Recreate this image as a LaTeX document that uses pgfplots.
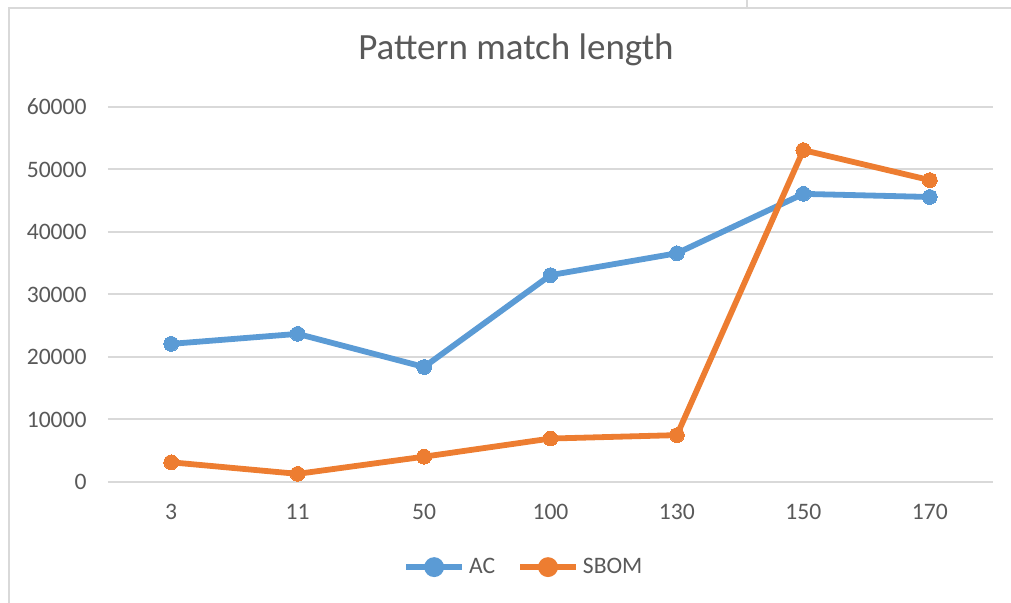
\documentclass[border=0pt]{standalone}
\usepackage{pgfplots}
\pgfplotsset{compat=1.18}
\usepackage{fontspec}
\setmainfont{Carlito}
\definecolor{acblue}{HTML}{5B9BD5}
\definecolor{sborange}{HTML}{ED7D31}
\definecolor{gridgray}{HTML}{D9D9D9}
\definecolor{txtgray}{HTML}{595959}
\begin{document}
\begin{tikzpicture}
\path[use as bounding box] (-54pt,-60.5pt) rectangle (451.5pt,241pt);
% chart frame
\draw[gridgray, line width=1pt] (-49.5pt,-60.5pt) -- (-49.5pt,237pt) -- (451.5pt,237pt);
\draw[gridgray, line width=0.6pt] (319.5pt,237pt) -- (319.5pt,241pt);
\begin{axis}[
  at={(0pt,0pt)}, anchor=south west,
  scale only axis, width=442.5pt, height=187.5pt,
  xmin=-0.5, xmax=6.5, ymin=0, ymax=60000,
  xtick={0,...,6},
  xticklabels={3,11,50,100,130,150,170},
  ytick={0,10000,...,60000},
  scaled y ticks=false,
  /pgf/number format/.cd, fixed, 1000 sep={}, assume math mode=true,
  /pgfplots/.cd,
  axis y line*=left, axis x line*=bottom,
  y axis line style={draw=none},
  x axis line style={gridgray, line width=1pt},
  ymajorgrids, grid style={gridgray, line width=1pt},
  major tick length=0pt,
  tick label style={font=\fontsize{11.8pt}{14pt}\selectfont, text=txtgray},
  yticklabel style={inner sep=0pt, anchor=east, xshift=-10.5pt},
  xticklabel style={inner sep=0pt, anchor=base, yshift=-19pt},
  legend style={at={(0.471,-0.227)}, anchor=center, draw=none, fill=none,
    legend columns=-1, font=\fontsize{11.8pt}{14pt}\selectfont, text=txtgray,
    /tikz/every even column/.append style={column sep=9pt}},
  legend image code/.code={
    \draw[#1, mark=none] (0pt,0pt) -- (28pt,0pt);
    \fill[#1] (14pt,0pt) circle (3.5pt);
  },
  clip=false,
]
\addplot[acblue, line width=2.9pt, mark=*, mark size=3.7pt, mark options={fill=acblue, draw=acblue, line width=0pt}]
  coordinates {(0,22100) (1,23700) (2,18400) (3,33100) (4,36600) (5,46100) (6,45600)};
\addlegendentry{AC}
\addplot[sborange, line width=2.9pt, mark=*, mark size=3.7pt, mark options={fill=sborange, draw=sborange, line width=0pt}]
  coordinates {(0,3150) (1,1300) (2,4050) (3,6950) (4,7500) (5,53100) (6,48300)};
\addlegendentry{SBOM}
\end{axis}
\node[text=txtgray, font=\fontsize{18.5pt}{22pt}\selectfont] at (204pt,216pt) {Pattern match length};
\end{tikzpicture}
\end{document}
